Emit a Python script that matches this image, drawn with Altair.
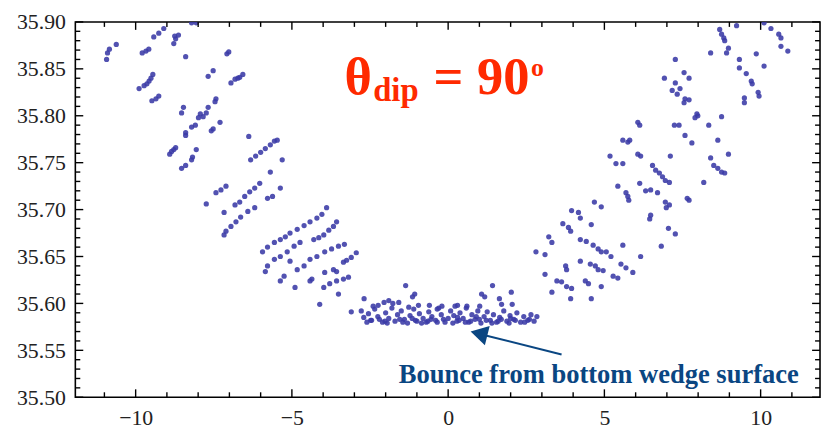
import altair as alt
import pandas as pd

# ---------------- data ----------------
LEFT_X = [-10.93, -10.90, -10.84, -10.62, -9.42, -9.26, -9.10, -8.78, -8.75, -8.72, -8.63,
          -8.21, -8.06, -9.79, -9.67, -9.58, -8.40, -7.08, -7.02,
          -9.89, -9.73, -9.64, -9.57, -9.51, -9.45, -9.48, -9.35, -9.26, -7.68, -7.52,
          -6.95, -6.82, -6.73, -6.67, -6.57, -7.43, -7.46,
          -7.68, -7.74, -7.93, -7.99, -7.84, -8.47, -8.53, -7.30, -7.52, -7.58,
          -8.09, -8.21, -8.40, -8.40, -6.38, -8.72, -8.78, -8.85, -8.91, -8.06, -8.18,
          -8.53, -8.40, -8.21,
          -6.32, -6.16, -6.00, -5.85, -5.69, -5.56, -5.47,
          -5.31, -5.69, -5.37, -5.78, -5.62, -7.74, -7.43, -7.27, -7.11, -7.17,
          -6.82, -6.67, -6.51, -6.35, -6.19, -6.03,
          -6.19, -6.41, -6.64, -6.79, -6.95, -7.11, -7.17,
          -5.94, -5.78, -5.56, -5.37, -5.21, -5.06, -4.83, -4.61, -4.42, -4.20, -4.04, -3.89,
          -4.30, -4.14, -3.98, -3.82, -3.67, -3.57,
          -5.85, -5.78, -5.56, -5.37, -5.15, -4.93, -4.74,
          -4.42, -4.20, -3.95, -3.73, -3.51, -3.32,
          -3.35, -3.25, -3.10, -2.94,
          -4.61, -4.83, -3.67, -3.95, -3.57, -5.25, -5.37, -4.42, -4.36,
          -3.19, -3.35, -3.57, -3.79, -3.98, -4.90, -3.51, -4.11, -5.06]
LEFT_Y = [35.860, 35.867, 35.871, 35.876, 35.884, 35.888, 35.893, 35.877, 35.885, 35.882, 35.886,
          35.899, 35.899, 35.867, 35.869, 35.871, 35.863, 35.866, 35.868,
          35.829, 35.832, 35.834, 35.837, 35.840, 35.844, 35.816, 35.818, 35.821, 35.842, 35.848,
          35.835, 35.839, 35.840, 35.841, 35.844, 35.818, 35.815,
          35.809, 35.803, 35.802, 35.798, 35.799, 35.809, 35.803, 35.793, 35.786, 35.784,
          35.790, 35.788, 35.782, 35.779, 35.778, 35.766, 35.764, 35.762, 35.759, 35.764, 35.756,
          35.744, 35.747, 35.753,
          35.753, 35.757, 35.761, 35.765, 35.769, 35.773, 35.774,
          35.753, 35.740, 35.723, 35.712, 35.714, 35.706, 35.718, 35.721, 35.725, 35.697,
          35.705, 35.708, 35.714, 35.719, 35.723, 35.728,
          35.702, 35.698, 35.692, 35.687, 35.682, 35.677, 35.673,
          35.655, 35.660, 35.665, 35.668, 35.671, 35.675, 35.679, 35.683, 35.687, 35.691, 35.695, 35.702,
          35.668, 35.670, 35.673, 35.678, 35.682, 35.687,
          35.634, 35.640, 35.647, 35.650, 35.655, 35.661, 35.665,
          35.647, 35.650, 35.655, 35.658, 35.661, 35.663,
          35.644, 35.646, 35.649, 35.654,
          35.640, 35.636, 35.636, 35.633, 35.634, 35.629, 35.624, 35.624, 35.626,
          35.628, 35.626, 35.624, 35.621, 35.617, 35.617, 35.610, 35.599, 35.645]

BOTTOM_X = [-3.10, -2.78, -2.70, -2.55, -2.45, -2.35, -2.25, -2.10, -2.00, -1.90, -1.80, -1.70,
            -1.62, -1.50, -1.40, -1.30, -1.22, -1.10, -1.00, -0.92, -0.80, -0.70, -0.62, -0.52,
            -0.40, -0.30, -0.22, -0.10, 0.00, 0.08, 0.18, 0.28, 0.38, 0.48, 0.58, 0.66, 0.76,
            0.86, 0.95, 1.05, 1.15, 1.25, 1.35, 1.45, 1.55, 1.65, 1.78, 1.88, 1.98, 2.10, 2.20,
            2.32, 2.42, 2.55, 2.65, 2.75,
            -2.60, -1.95, -1.45, -0.85, -0.35, 0.15, 0.55, 1.00, 1.40, 1.95, 2.45, -2.20, -1.15,
            0.30, 1.70, -0.55, 0.90, 2.00,
            -2.48, -2.02, -1.55, -1.05, -0.65, -0.15, 0.35, 0.72, 1.22, 1.60, 2.15, 2.60,
            -1.36, -1.07, -1.14, -2.69, -2.05, -1.90, -1.77, -1.58, -2.40, -2.24, -1.26, -0.95,
            1.42, 2.02, 1.07, 1.17, 1.64, 1.01, 1.71, 2.05, 2.84, -0.60, -0.20, 0.30, 0.60,
            0.22, -0.35]
BOTTOM_Y = [35.591, 35.592, 35.585, 35.589, 35.582, 35.594, 35.586, 35.580, 35.590, 35.584, 35.595,
            35.581, 35.588, 35.592, 35.583, 35.579, 35.587, 35.594, 35.581, 35.589, 35.584, 35.580,
            35.591, 35.586, 35.582, 35.595, 35.588, 35.580, 35.584, 35.592, 35.587, 35.581, 35.590,
            35.584, 35.595, 35.580, 35.588, 35.583, 35.592, 35.579, 35.586, 35.591, 35.582, 35.588,
            35.580, 35.585, 35.592, 35.581, 35.587, 35.583, 35.590, 35.580, 35.586, 35.582, 35.588,
            35.581,
            35.580, 35.579, 35.580, 35.579, 35.580, 35.579, 35.580, 35.583, 35.579, 35.579, 35.580,
            35.583, 35.584, 35.585, 35.583, 35.583, 35.586, 35.584,
            35.582, 35.581, 35.583, 35.582, 35.581, 35.583, 35.582, 35.581, 35.582, 35.581, 35.582,
            35.583,
            35.619, 35.610, 35.607, 35.605, 35.601, 35.603, 35.600, 35.601, 35.597, 35.598, 35.596,
            35.598, 35.619, 35.612, 35.610, 35.607, 35.605, 35.597, 35.599, 35.599, 35.586, 35.598,
            35.597, 35.598, 35.597, 35.597, 35.594]

RIGHT_X = [5.75, 5.59, 5.81, 5.18, 5.37, 5.59, 6.07, 6.16, 7.11,
           6.54, 6.64, 6.76, 6.86, 6.95, 7.08, 5.43, 6.13, 6.32, 6.48, 6.70,
           5.69, 5.75, 5.78, 7.71, 6.95, 7.08, 6.98, 4.68, 4.90, 6.48, 6.45,
           3.95, 4.17, 4.23, 4.58, 3.67, 3.85, 3.92, 7.05, 7.27, 3.22, 3.32,
           4.23, 4.42, 4.64, 4.80, 4.90, 5.06, 5.59, 6.82, 2.81, 3.10, 5.21, 6.16, 4.23,
           3.76, 3.79, 4.55, 4.71, 4.80, 4.96, 5.53, 5.69, 5.91, 3.10, 5.28, 5.43,
           3.48, 3.63, 3.79, 3.95, 4.39, 4.49, 4.90, 3.32, 3.92, 4.58,
           8.69, 8.75, 8.82, 8.85, 9.23, 10.11, 10.33, 10.58, 10.65, 10.65, 10.87,
           8.97, 8.91, 8.40, 9.86, 7.27, 9.32, 9.32, 10.11, 7.55, 7.71, 6.92,
           9.54, 9.70, 9.73, 7.27, 7.42, 7.17, 7.33, 9.92, 9.95, 7.58, 7.71, 7.55,
           9.48, 9.48, 7.96, 7.90, 7.99, 8.75, 6.07, 6.13, 7.24, 7.39, 8.34,
           7.58, 7.80, 8.63, 8.97, 8.40, 8.50, 8.63, 8.75, 8.85, 8.18, 7.65]
RIGHT_Y = [35.772, 35.774, 35.774, 35.757, 35.749, 35.749, 35.759, 35.757, 35.757,
           35.747, 35.742, 35.739, 35.735, 35.731, 35.729, 35.725, 35.728, 35.720, 35.721, 35.718,
           35.718, 35.714, 35.710, 35.710, 35.708, 35.705, 35.702, 35.708, 35.703, 35.694, 35.690,
           35.699, 35.697, 35.691, 35.684, 35.685, 35.681, 35.677, 35.680, 35.674, 35.671, 35.665,
           35.668, 35.666, 35.662, 35.658, 35.655, 35.655, 35.662, 35.661, 35.655, 35.652, 35.650,
           35.650, 35.645,
           35.640, 35.636, 35.642, 35.640, 35.636, 35.635, 35.642, 35.638, 35.633, 35.631, 35.629,
           35.627,
           35.624, 35.623, 35.618, 35.616, 35.624, 35.621, 35.618, 35.612, 35.605, 35.605,
           35.892, 35.887, 35.883, 35.880, 35.896, 35.899, 35.893, 35.887, 35.883, 35.874, 35.869,
           35.872, 35.867, 35.867, 35.866, 35.860, 35.860, 35.851, 35.853, 35.846, 35.840, 35.840,
           35.845, 35.837, 35.834, 35.835, 35.829, 35.827, 35.823, 35.825, 35.821, 35.818, 35.817,
           35.814,
           35.819, 35.814, 35.802, 35.798, 35.800, 35.799, 35.793, 35.790, 35.790, 35.790, 35.790,
           35.779, 35.771, 35.774, 35.759, 35.755, 35.747, 35.744, 35.740, 35.739, 35.729, 35.712]

X_MAJOR = [-10, -5, 0, 5, 10]
X_MINOR = [-11, -9, -8, -7, -6, -4, -3, -2, -1, 1, 2, 3, 4, 6, 7, 8, 9, 11]
Y_MAJOR = [35.50, 35.55, 35.60, 35.65, 35.70, 35.75, 35.80, 35.85, 35.90]
Y_MINOR = [35.51, 35.52, 35.53, 35.54, 35.56, 35.57, 35.58, 35.59, 35.61, 35.62, 35.63, 35.64,
           35.66, 35.67, 35.68, 35.69, 35.71, 35.72, 35.73, 35.74, 35.76, 35.77, 35.78, 35.79,
           35.81, 35.82, 35.83, 35.84, 35.86, 35.87, 35.88, 35.89]

TITLE_TEXT = ["θ", "dip", "=", "90", "o"]
TITLE_X = [-3.32, -2.40, -0.47, 0.92, 2.65]
TITLE_Y = [35.8235, 35.8161, 35.8235, 35.8235, 35.8425]
TITLE_SIZE = [53, 33, 53, 53, 26]

NOTE_TEXT = ["Bounce from bottom wedge surface"]
NOTE_X = [4.82]
NOTE_Y = [35.5148]

ARROW_X = [3.63]
ARROW_Y = [35.5455]
ARROW_X2 = [1.106]
ARROW_Y2 = [35.5666]
HEAD_X = [0.986]
HEAD_Y = [35.5679]

# ---------------- chart ----------------
W, H = 752, 379
POINT_COLOR = "#3a3aa6"
NOTE_COLOR = "#0a4682"
RED = "#ff2a00"

xs = alt.Scale(domain=[-11.93, 11.9], nice=False, zero=False)
ys = alt.Scale(domain=[35.50, 35.90], nice=False, zero=False)

axis_x = alt.Axis(values=X_MAJOR, format="d", title=None, labelPadding=11, labelFlush=False,
                  domain=False, ticks=False, tickSize=0, grid=False)
axis_y = alt.Axis(values=Y_MAJOR, format=".2f", title=None, labelPadding=10, labelFlush=False,
                  domain=False, ticks=False, tickSize=0, grid=False)


def X(field):
    return alt.X(field, scale=xs, axis=axis_x)


def Y(field):
    return alt.Y(field, scale=ys, axis=axis_y)


pts = pd.DataFrame({
    "x": LEFT_X + BOTTOM_X + RIGHT_X,
    "y": LEFT_Y + BOTTOM_Y + RIGHT_Y,
})

points = alt.Chart(pts).mark_circle(size=28, color=POINT_COLOR, opacity=0.88, clip=True).encode(
    x=X("x:Q"), y=Y("y:Q"),
)


def xticks(vals, length):
    d = pd.DataFrame({"v": vals})
    bottom = alt.Chart(d).mark_rule(color="black", strokeWidth=1.4).encode(
        x=X("v:Q"), y=alt.value(H), y2=alt.value(H - length))
    top = alt.Chart(d).mark_rule(color="black", strokeWidth=1.4).encode(
        x=X("v:Q"), y=alt.value(0), y2=alt.value(length))
    return [bottom, top]


def yticks(vals, length):
    d = pd.DataFrame({"v": vals})
    left = alt.Chart(d).mark_rule(color="black", strokeWidth=1.4).encode(
        y=Y("v:Q"), x=alt.value(0), x2=alt.value(length))
    right = alt.Chart(d).mark_rule(color="black", strokeWidth=1.4).encode(
        y=Y("v:Q"), x=alt.value(W), x2=alt.value(W - length))
    return [left, right]


title_df = pd.DataFrame({"t": TITLE_TEXT, "x": TITLE_X, "y": TITLE_Y, "s": TITLE_SIZE})
title = alt.Chart(title_df).mark_text(
    align="left", baseline="alphabetic", font="Liberation Serif", fontWeight="bold", color=RED
).encode(
    x=X("x:Q"), y=Y("y:Q"),
    text="t:N",
    size=alt.Size("s:Q", scale=None, legend=None),
)

note_df = pd.DataFrame({"t": NOTE_TEXT, "x": NOTE_X, "y": NOTE_Y})
note = alt.Chart(note_df).mark_text(
    align="center", baseline="alphabetic", font="Liberation Serif", fontWeight="bold",
    fontSize=26.8, color=NOTE_COLOR
).encode(
    x=X("x:Q"), y=Y("y:Q"), text="t:N",
)

arrow_df = pd.DataFrame({"x": ARROW_X, "y": ARROW_Y, "x2": ARROW_X2, "y2": ARROW_Y2})
arrow = alt.Chart(arrow_df).mark_rule(color=NOTE_COLOR, strokeWidth=2).encode(
    x=X("x:Q"), y=Y("y:Q"), x2="x2:Q", y2="y2:Q",
)

head_df = pd.DataFrame({"x": HEAD_X, "y": HEAD_Y})
head = alt.Chart(head_df).mark_point(
    shape="triangle-left", size=400, angle=14, filled=True, color=NOTE_COLOR, opacity=1
).encode(
    x=X("x:Q"), y=Y("y:Q"),
)

layers = [points] + xticks(X_MAJOR, 8) + xticks(X_MINOR, 5) + yticks(Y_MAJOR, 8) + yticks(Y_MINOR, 5) \
    + [arrow, head, note, title]

chart = alt.layer(*layers).properties(
    width=W, height=H,
    padding={"left": 68, "top": 12, "right": 1, "bottom": 30},
    autosize=alt.AutoSizeParams(type="none"),
    background="white",
).configure_view(
    stroke="black", strokeWidth=1.6
).configure_axis(
    labelFont="Liberation Serif", labelFontSize=22, labelColor="#222222",
)

chart.save("out.html", embed_options={"renderer": "svg", "actions": False})
